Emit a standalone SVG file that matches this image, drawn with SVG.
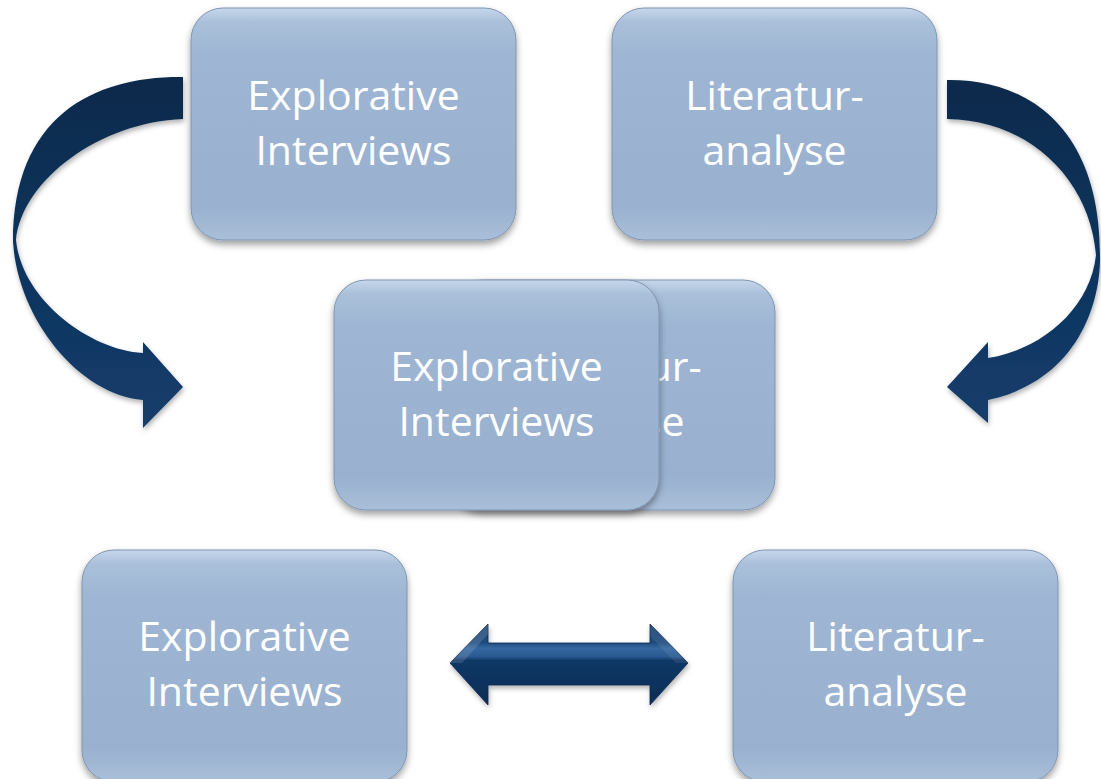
<svg xmlns="http://www.w3.org/2000/svg" width="1101" height="779" viewBox="0 0 1101 779">
  <defs>
    <linearGradient id="boxFill" x1="0" y1="0" x2="0" y2="1">
      <stop offset="0" stop-color="#c6d7eb"/>
      <stop offset="0.06" stop-color="#aac0da"/>
      <stop offset="0.2" stop-color="#9eb6d3"/>
      <stop offset="0.85" stop-color="#99b1cf"/>
      <stop offset="1" stop-color="#a9bfd9"/>
    </linearGradient>
    <linearGradient id="arrowFill" x1="0" y1="0" x2="0" y2="1">
      <stop offset="0" stop-color="#0c2a4c"/>
      <stop offset="1" stop-color="#133d6c"/>
    </linearGradient>
    <linearGradient id="dblFill" gradientUnits="userSpaceOnUse" x1="0" y1="624" x2="0" y2="705">
      <stop offset="0" stop-color="#1a4574"/>
      <stop offset="0.23" stop-color="#1f4c7f"/>
      <stop offset="0.3" stop-color="#3567a0"/>
      <stop offset="0.4" stop-color="#2a5a90"/>
      <stop offset="0.45" stop-color="#113866"/>
      <stop offset="1" stop-color="#0c2c54"/>
    </linearGradient>
    <filter id="shadow" x="-10%" y="-10%" width="120%" height="125%">
      <feDropShadow dx="0" dy="4" stdDeviation="3.5" flood-color="#000" flood-opacity="0.38"/>
    </filter>
    <filter id="ashadow" x="-10%" y="-10%" width="120%" height="125%">
      <feDropShadow dx="1" dy="3" stdDeviation="2.5" flood-color="#000" flood-opacity="0.3"/>
    </filter>
  </defs>
  <style>
    .box { fill: url(#boxFill); stroke: #7f95b0; stroke-width: 1; filter: url(#shadow); }
    .lbl { font-family: "Open Sans", "Liberation Sans", sans-serif; font-size: 41px; fill: #ffffff; text-anchor: middle; }
    .arrow { fill: url(#arrowFill); filter: url(#ashadow); }
  </style>
  <rect width="1101" height="779" fill="#ffffff"/>

  <g id="connectors">
    <path class="arrow" d="M183,77 C95,76 13,115 13,242 C18,320 80,395 143,400 L143,428 L183,387 L143,342 L143,353 C90,350 22,300 16,240 C22,180 100,122 183,119 Z"/>
    <path class="arrow" d="M947,80 C1030,79 1100,130 1100,255 C1101,300 1080,380 988,400 L988,423 L947,387 L988,342 L988,358 C1040,350 1090,310 1096,255 C1090,180 1030,120 947,119 Z"/>
    <g filter="url(#ashadow)">
      <path fill="url(#dblFill)" stroke="#0b2a50" stroke-width="0.8" d="M450,663 L488,624 L488,643 L650,643 L650,624 L688,663 L650,705 L650,685 L488,685 L488,705 Z"/>
      <path fill="#ffffff" fill-opacity="0.13" d="M450,663 L488,624 L488,634 L462,663 Z"/>
      <path fill="#ffffff" fill-opacity="0.08" d="M650,624 L688,663 L676,663 L650,636 Z"/>
    </g>
  </g>

  <g id="node-explorative-top">
    <rect class="box" x="191" y="8" width="325" height="232" rx="32"/>
    <text class="lbl" x="353.5" y="110">Explorative</text>
    <text class="lbl" x="353.5" y="165">Interviews</text>
  </g>

  <g id="node-literatur-top">
    <rect class="box" x="612" y="8" width="325" height="232" rx="32"/>
    <text class="lbl" x="774.5" y="110">Literatur-</text>
    <text class="lbl" x="774.5" y="165">analyse</text>
  </g>

  <g id="node-literatur-middle">
    <rect class="box" x="450" y="280" width="325" height="230" rx="32"/>
    <text class="lbl" x="612.5" y="381">Literatur-</text>
    <text class="lbl" x="612.5" y="436">analyse</text>
  </g>

  <g id="node-explorative-middle">
    <rect class="box" x="334" y="280" width="325" height="230" rx="32"/>
    <text class="lbl" x="496.5" y="381">Explorative</text>
    <text class="lbl" x="496.5" y="436">Interviews</text>
  </g>

  <g id="node-explorative-bottom">
    <rect class="box" x="82" y="550" width="325" height="232" rx="32"/>
    <text class="lbl" x="244.5" y="651">Explorative</text>
    <text class="lbl" x="244.5" y="706">Interviews</text>
  </g>

  <g id="node-literatur-bottom">
    <rect class="box" x="733" y="550" width="325" height="232" rx="32"/>
    <text class="lbl" x="895.5" y="651">Literatur-</text>
    <text class="lbl" x="895.5" y="706">analyse</text>
  </g>
</svg>
